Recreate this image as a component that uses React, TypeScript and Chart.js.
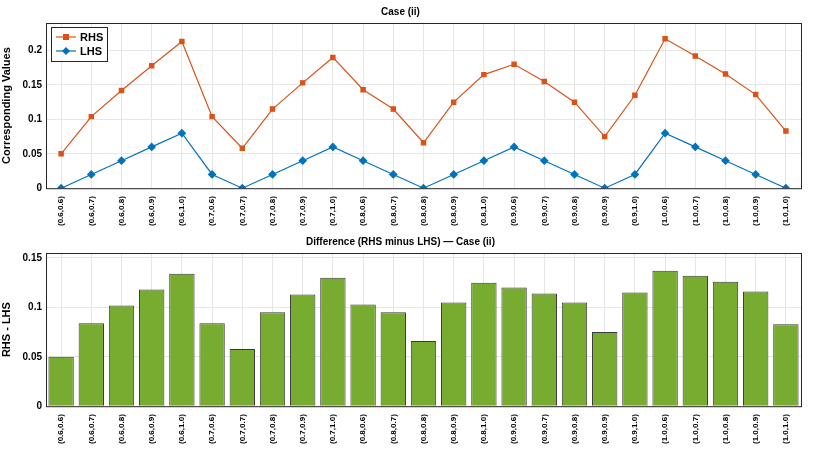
import React, { useEffect, useRef } from "react";
import { Chart, registerables } from "chart.js";
Chart.register(...registerables);

const categories = [
  "(0.6,0.6)","(0.6,0.7)","(0.6,0.8)","(0.6,0.9)","(0.6,1.0)",
  "(0.7,0.6)","(0.7,0.7)","(0.7,0.8)","(0.7,0.9)","(0.7,1.0)",
  "(0.8,0.6)","(0.8,0.7)","(0.8,0.8)","(0.8,0.9)","(0.8,1.0)",
  "(0.9,0.6)","(0.9,0.7)","(0.9,0.8)","(0.9,0.9)","(0.9,1.0)",
  "(1.0,0.6)","(1.0,0.7)","(1.0,0.8)","(1.0,0.9)","(1.0,1.0)",
];
const rhs = [0.05,0.104,0.142,0.178,0.213, 0.104,0.058,0.115,0.153,0.190, 0.143,0.115,0.066,0.125,0.165, 0.180,0.155,0.125,0.075,0.135, 0.217,0.192,0.166,0.136,0.083];
const lhs = [0,0.02,0.04,0.06,0.08, 0.02,0,0.02,0.04,0.06, 0.04,0.02,0,0.02,0.04, 0.06,0.04,0.02,0,0.02, 0.08,0.06,0.04,0.02,0];
const diff = [0.05,0.084,0.102,0.118,0.134, 0.084,0.058,0.095,0.113,0.130, 0.103,0.095,0.066,0.105,0.125, 0.120,0.114,0.105,0.075,0.115, 0.137,0.132,0.126,0.116,0.083];
const topTicks = [0, 0.05, 0.1, 0.15, 0.2];
const botTicks = [0, 0.05, 0.1, 0.15];

const FONT = "'Liberation Sans', Arial, sans-serif";
const RED = "#D95319", BLUE = "#0072BD";

const frame = {
  id: "frame",
  afterDraw(c: any) {
    const a = c.chartArea, g = c.ctx;
    g.save(); g.strokeStyle = "#262626"; g.lineWidth = 1;
    g.strokeRect(a.left + 0.5, a.top + 0.5, a.right - a.left, a.bottom - a.top);
    g.restore();
  },
};
const legendPlug = {
  id: "lg",
  afterDraw(c: any) {
    if (c.config.type !== "line") return;
    const a = c.chartArea, g = c.ctx;
    const x = a.left + 5, y = a.top + 4, w = 56, h = 34;
    g.save();
    g.fillStyle = "#fff"; g.strokeStyle = "#262626"; g.lineWidth = 1;
    g.fillRect(x, y, w, h); g.strokeRect(x + 0.5, y + 0.5, w, h);
    g.font = `bold 11px ${FONT}`; g.textBaseline = "middle";
    [[RED, "RHS", "sq"], [BLUE, "LHS", "di"]].forEach(([col, t, s], i) => {
      const yy = y + 10 + i * 14;
      g.strokeStyle = col; g.fillStyle = col; g.lineWidth = 1.2;
      g.beginPath(); g.moveTo(x + 5, yy); g.lineTo(x + 25, yy); g.stroke();
      g.beginPath();
      if (s === "sq") g.rect(x + 12, yy - 3, 6, 6);
      else { g.moveTo(x + 15, yy - 4); g.lineTo(x + 19, yy); g.lineTo(x + 15, yy + 4); g.lineTo(x + 11, yy); g.closePath(); }
      g.fill();
      g.fillStyle = "#000"; g.fillText(t, x + 29, yy + 1);
    });
    g.restore();
  },
};

function common(title: string, ytitle: string, max: number, ticks: number[], padBottom: number, titleTop: number): any {
  return {
    responsive: false, animation: false, maintainAspectRatio: false,
    layout: { padding: { right: 20, top: 0, bottom: padBottom } },
    plugins: {
      legend: { display: false }, tooltip: { enabled: false },
      title: { display: true, text: title, color: "#000", font: { family: FONT, size: 10, weight: "bold" }, padding: { top: titleTop, bottom: 5 } },
    },
    scales: {
      x: {
        offset: true,
        grid: { color: "#e6e6e6", offset: false, drawTicks: false },
        border: { display: false },
        ticks: { color: "#000", minRotation: 90, maxRotation: 90, autoSkip: false, padding: 8, font: { family: FONT, size: 8, weight: "bold" } },
      },
      y: {
        min: 0, max,
        afterFit(s: any) { s.width = 46; },
        afterBuildTicks(s: any) { s.ticks = ticks.map((v) => ({ value: v })); },
        grid: { color: "#e6e6e6", drawTicks: false },
        border: { display: false },
        title: { display: true, text: ytitle, color: "#000", font: { family: FONT, size: 11, weight: "bold" }, padding: 0 },
        ticks: {
          color: "#000", padding: 4, font: { family: FONT, size: 10, weight: "bold" },
          callback: (v: number) => String(+v.toFixed(2)),
        },
      },
    },
  };
}

export default function App() {
  const r1 = useRef<HTMLCanvasElement>(null);
  const r2 = useRef<HTMLCanvasElement>(null);
  useEffect(() => {
    const c1 = new Chart(r1.current!, {
      type: "line",
      data: {
        labels: categories,
        datasets: [
          { data: rhs, borderColor: RED, backgroundColor: RED, borderWidth: 1.2, pointStyle: "rect", pointRadius: 3, tension: 0 },
          { data: lhs, borderColor: BLUE, backgroundColor: BLUE, borderWidth: 1.2, pointStyle: "rectRot", pointRadius: 3.5, tension: 0 },
        ],
      },
      options: common("Case (ii)", "Corresponding Values", 0.24, topTicks, 2, 6),
      plugins: [frame, legendPlug],
    } as any);
    const c2 = new Chart(r2.current!, {
      type: "bar",
      data: {
        labels: categories,
        datasets: [{ data: diff, backgroundColor: "#77AC30", borderColor: "#3a3a3a", borderWidth: 1, barPercentage: 0.84, categoryPercentage: 1 }],
      },
      options: common("Difference (RHS minus LHS) \u2014 Case (ii)", "RHS - LHS", 0.155, botTicks, 2, 0),
      plugins: [frame],
    } as any);
    return () => { c1.destroy(); c2.destroy(); };
  }, []);
  return (
    <div style={{ position: "absolute", left: 0, top: 0, width: 821, height: 454, background: "#fff" }}>
      <canvas ref={r1} width={821} height={236} style={{ display: "block" }} />
      <canvas ref={r2} width={821} height={218} style={{ display: "block" }} />
    </div>
  );
}
